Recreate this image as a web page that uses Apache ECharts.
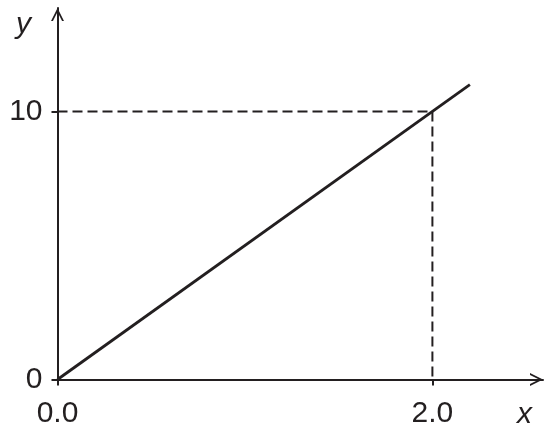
<!DOCTYPE html>
<html><head><meta charset="utf-8">
<script src="https://cdn.jsdelivr.net/npm/echarts@6/dist/echarts.min.js"></script>
<style>html,body{margin:0;padding:0;background:#fff}#c{width:545px;height:427px}</style>
</head><body><div id="c"></div>
<script>
// data
const lineX = [0, 2.2];
const lineY = [0, 11];
const guideX = [0, 2.0, 2.0];
const guideY = [10, 10, 0];
const xTicks = [0, 2.0];
const yTicks = [0, 10];
const xTickLabels = ['0.0', '2.0'];
const yTickLabels = ['0', '10'];
const xName = 'x', yName = 'y';

const ink = '#231f20';
const arrow = 'path://M5,0 L10,10 L8.5,10 L5,3 L1.5,10 L0,10 Z';
const chart = echarts.init(document.getElementById('c'));
const axisCommon = {
  type: 'value',
  min: 0,
  splitLine: {show: false},
  axisLine: {show: true, lineStyle: {color: ink, width: 2}, symbol: ['none', arrow], symbolSize: [14, 13], symbolOffset: [0, -6.5]},
  axisTick: {show: true, length: 6, inside: false, lineStyle: {color: ink, width: 2}},
  axisLabel: {color: ink, fontSize: 30, fontFamily: 'Liberation Sans'},
  nameMoveOverlap: false,
  nameTextStyle: {color: ink, fontSize: 30, fontStyle: 'italic', fontFamily: 'Liberation Sans'}
};
chart.setOption({
  animation: false,
  grid: {left: 57.5, right: 2, top: 8, bottom: 47.5, containLabel: false, outerBoundsMode: 'none'},
  xAxis: Object.assign({}, axisCommon, {
    max: 2.59,
    name: xName, nameLocation: 'end', nameGap: -26,
    nameTextStyle: Object.assign({}, axisCommon.nameTextStyle, {align: 'left', verticalAlign: 'top', padding: [20, 0, 0, 0]}),
    axisTick: Object.assign({}, axisCommon.axisTick, {customValues: xTicks}),
    axisLabel: Object.assign({}, axisCommon.axisLabel, {customValues: xTicks, margin: 19,
      formatter: v => xTickLabels[xTicks.indexOf(v)] ?? ''})
  }),
  yAxis: Object.assign({}, axisCommon, {
    max: 13.86,
    name: yName, nameLocation: 'end', nameGap: -17,
    nameTextStyle: Object.assign({}, axisCommon.nameTextStyle, {align: 'center', verticalAlign: 'middle', padding: [10, 68, 0, 0]}),
    axisTick: Object.assign({}, axisCommon.axisTick, {customValues: yTicks}),
    axisLabel: Object.assign({}, axisCommon.axisLabel, {customValues: yTicks, margin: 15,
      formatter: v => yTickLabels[yTicks.indexOf(v)] ?? ''})
  }),
  series: [
    {type: 'line', data: guideX.map((x, i) => [x, guideY[i]]), showSymbol: false, silent: true,
     lineStyle: {color: ink, width: 2, type: [10, 5]}, z: 1},
    {type: 'line', data: lineX.map((x, i) => [x, lineY[i]]), showSymbol: false, silent: true,
     lineStyle: {color: ink, width: 2.8}, z: 2}
  ]
});
</script></body></html>
